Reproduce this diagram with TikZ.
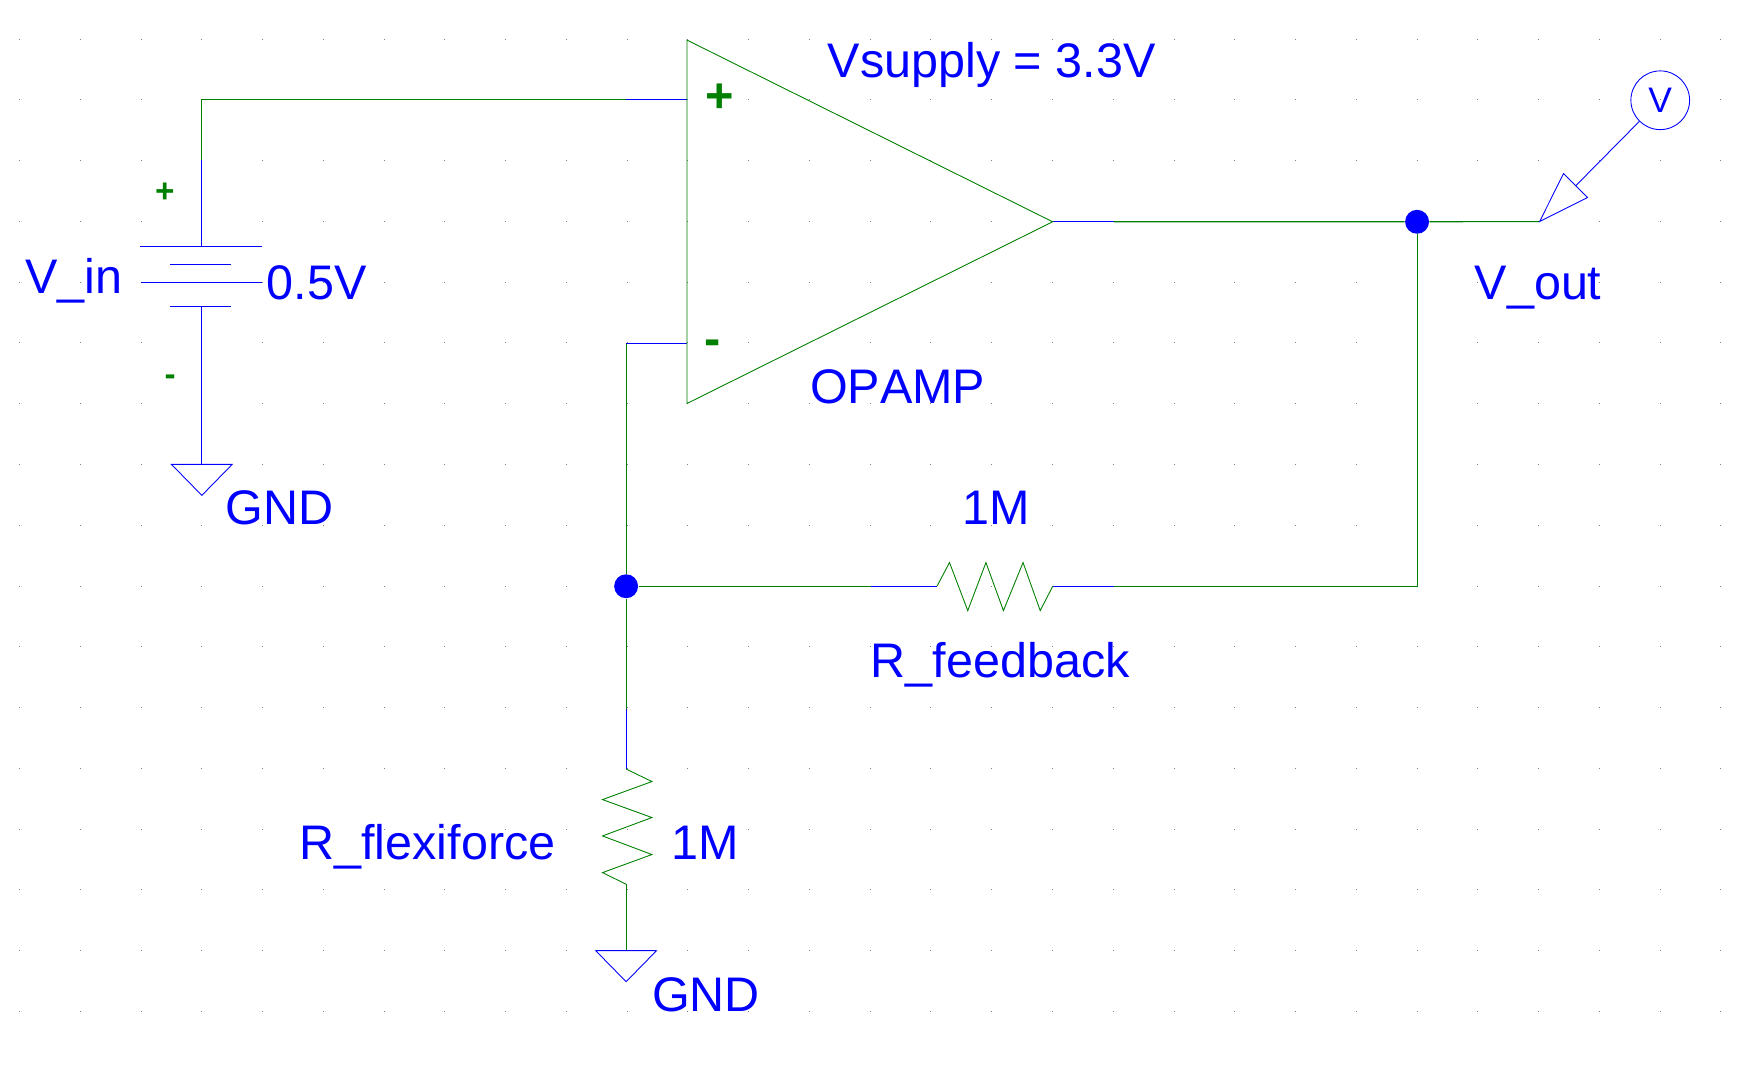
\documentclass[tikz,border=0pt]{standalone}
\usepackage{fontspec}
\setmainfont[Kerning=Off]{Liberation Sans}
\definecolor{wb}{RGB}{0,0,255}
\definecolor{wg}{RGB}{0,128,0}
\definecolor{griddot}{RGB}{128,128,128}
\tikzset{
 wiregreen/.style={draw=wg,line width=0.5pt},
 wireblue/.style={draw=wb,line width=0.5pt},
 thingreen/.style={draw=wg,line width=0.4pt,line join=miter},
 thinblue/.style={draw=wb,line width=0.4pt,line join=miter},
 lab/.style={text=wb,font=\fontsize{21.9}{24}\selectfont,anchor=base west,inner sep=0pt,outer sep=0pt},
 signbig/.style={text=wg,font=\fontsize{22}{24}\selectfont\bfseries,inner sep=0pt},
 signsmall/.style={text=wg,font=\fontsize{15}{18}\selectfont\bfseries,inner sep=0pt},
 junction/.style={circle,fill=wb,draw=none,minimum size=10.8pt,inner sep=0pt},
}
\begin{document}
\begin{tikzpicture}[x=0.5pt,y=-0.5pt]
\useasboundingbox (0,0) rectangle (1568,963);
\fill[white] (0,0) rectangle (1568,963);
\begin{scope}[shift={(0.2,0.2)}]
% grid
\foreach \i in {-3,...,25}{\foreach \j in {-1,...,15}{
 \fill[griddot] ({182+54.85*\i-0.45},{90+54.85*\j-0.45}) rectangle +(0.9,0.9);}}
% coordinates
\coordinate (bt) at (182,222);
\coordinate (bb) at (182,276.5);
\coordinate (tl) at (182,90);
\coordinate (tm) at (182,144);
\coordinate (pa) at (565,90);
\coordinate (pin) at (620,90);
\coordinate (nin) at (620,310);
\coordinate (nc) at (565,310);
\coordinate (oa1) at (620,36);
\coordinate (oa2) at (620,364);
\coordinate (oout) at (950,200);
\coordinate (oo2) at (1005,200);
\coordinate (tip) at (1389.6,199.8);
\coordinate (fbl) at (786,529);
\coordinate (rfa) at (845.6,529);
\coordinate (rfb) at (950.1,529);
\coordinate (fbr) at (1005,529);
\coordinate (fbc) at (1279,529);
\coordinate (rva) at (565,694);
\coordinate (rvb) at (565,798);
\coordinate (rvm) at (565,640);
\coordinate (g1) at (182,419);
\coordinate (g2) at (565,858);
\coordinate (plead) at (1422.4,167.3);
% nodes
\node[junction] (jout) at (1279,200) {};
\node[junction] (jfb) at (565,529) {};
\node[circle,draw=wb,line width=0.4pt,minimum size=26.5pt,inner sep=0pt,text=wb,font=\fontsize{16}{18}\selectfont] (vprobe) at (1498.5,90.3) {V};
% wires
\draw[wiregreen] (tm) -- (tl) -- (pa);
\draw[wireblue] (pa) -- (pin);
\draw[wireblue] (bt) -- (tm);
\draw[wireblue] (bb) -- (g1);
\draw[wireblue] (nc) -- (nin);
\draw[wiregreen] (nc) -- (jfb);
\draw[wiregreen] (jfb) -- (rvm);
\draw[wireblue] (rvm) -- (rva);
\draw[wiregreen] (rvb) -- (g2);
\draw[wireblue] (oout) -- (oo2);
\draw[wiregreen] (oo2) -- (jout) -- (tip);
\draw[wiregreen] (jout) -- (fbc) -- (fbr);
\draw[wireblue] (fbr) -- (rfb);
\draw[wireblue] (rfa) -- (fbl);
\draw[wiregreen] (fbl) -- (jfb);
% opamp
\draw[thingreen] (oa1) -- (oout) -- (oa2) -- cycle;
% battery
\draw[wireblue] (126,222) -- (236,222);
\draw[wireblue,line width=0.4pt] (153.6,238.7) -- (208.4,238.7);
\draw[wireblue] (127,254.8) -- (236.5,254.8);
\draw[wireblue,line width=0.4pt] (153.6,276.5) -- (208.4,276.5);
% grounds
\draw[thinblue] (g1) -- ++(-27.4,0) -- (182,447) -- (209.4,419) -- cycle;
\draw[wireblue] (154.6,419) -- (209.4,419);
\draw[thinblue] (g2) -- ++(-27.4,0) -- (565,886) -- (592.4,858) -- cycle;
\draw[wireblue] (537.6,858) -- (592.4,858);
% resistors
\draw[thingreen] (rfa) -- (856.9,507.6) -- (873.4,551) -- (889.8,507.6) -- (905.6,551) -- (923.3,507.6) -- (938.8,551) -- (rfb);
\draw[thingreen] (rva) -- (588.3,705.3) -- (543.7,721.6) -- (588.3,737.8) -- (543.7,754.4) -- (588.3,771.2) -- (543.7,787.5) -- (rvb);
% probe
\draw[thinblue] (vprobe) -- (plead);
\draw[thinblue] (tip) -- (1411.2,156.5) -- (1432.8,178.1) -- cycle;
% labels
\node[signbig] (oplus) at (649.5,88.5) {+};
\node[signbig] (ominus) at (643.5,314) {-};
\node[signsmall] (bplus) at (148.6,173.5) {+};
\node[signsmall] (bminus) at (153.3,343) {-};
\node[lab] (lvin) at (22.5,265) {V\_in};
\node[lab] (lbv) at (240.5,270) {0.5V};
\node[lab] (lg1) at (203.5,473.5) {GND};
\node[lab] (lsup) at (747,70) {Vsupply = 3.3V};
\node[lab] (lop) at (731,364) {OPAMP};
\node[lab] (lout) at (1331,270) {V\_out};
\node[lab] (lr1) at (869,473.5) {1M};
\node[lab] (lrf) at (786,611) {R\_feedback};
\node[lab] (lrx) at (270,776) {R\_flexiforce};
\node[lab] (lr2) at (606,776) {1M};
\node[lab] (lg2) at (588.5,912.5) {GND};
\end{scope}
\end{tikzpicture}
\end{document}
